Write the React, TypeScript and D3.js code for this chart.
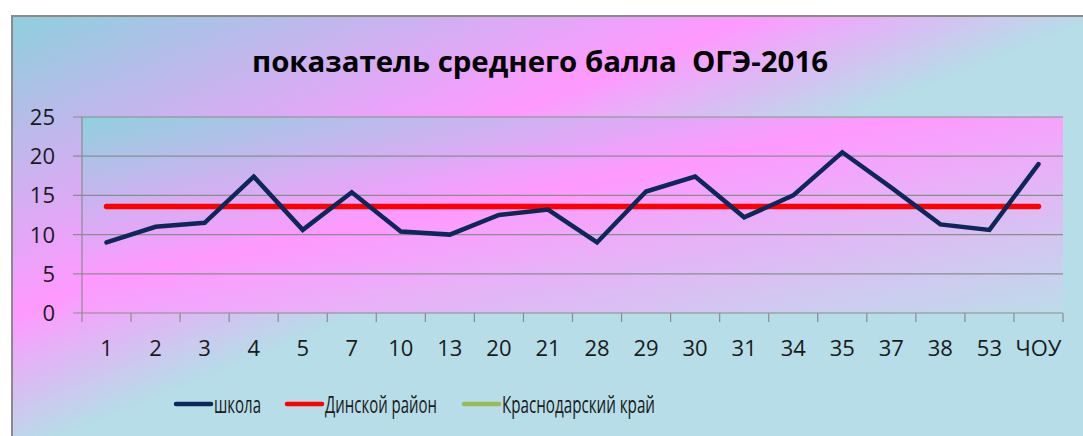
import React, { useEffect, useRef } from 'react'
import * as d3 from 'd3'

// chart data
const categories = ['1', '2', '3', '4', '5', '7', '10', '13', '20', '21', '28', '29', '30', '31', '34', '35', '37', '38', '53', 'ЧОУ']
const schoolValues = [9.0, 11.0, 11.5, 17.4, 10.6, 15.4, 10.4, 10.0, 12.5, 13.2, 9.0, 15.5, 17.4, 12.2, 15.0, 20.5, 16.0, 11.3, 10.6, 19.0]
const districtValues = [13.6, 13.6, 13.6, 13.6, 13.6, 13.6, 13.6, 13.6, 13.6, 13.6, 13.6, 13.6, 13.6, 13.6, 13.6, 13.6, 13.6, 13.6, 13.6, 13.6]
const regionValues: (number | null)[] = []
const yTicks = [0, 5, 10, 15, 20, 25]
const seriesNames = ['школа', 'Динской район', 'Краснодарский край']
const seriesColors = ['#0c2759', '#ff0000', '#9bbb59']
const title = 'показатель среднего балла  ОГЭ-2016'

const FONT = "'Open Sans', 'Noto Sans', sans-serif"

export default function App() {
    const ref = useRef<SVGSVGElement>(null)

    useEffect(() => {
        const width = 1083
        const height = 436
        const plot = { left: 82, top: 117, right: 1063, bottom: 313 }

        const svg = d3.select(ref.current)
        svg.selectAll('*').remove()

        const defs = svg.append('defs')
        const outerGrad = defs.append('linearGradient')
            .attr('id', 'outerGrad')
            .attr('x1', 0).attr('y1', 0).attr('x2', 1).attr('y2', 1)
        outerGrad.append('stop').attr('offset', 0).attr('stop-color', '#8dd0dd')
        outerGrad.append('stop').attr('offset', 0.34).attr('stop-color', '#ff99ff')
        outerGrad.append('stop').attr('offset', 0.5).attr('stop-color', '#b6dde8')
        outerGrad.append('stop').attr('offset', 1).attr('stop-color', '#b6dde8')

        const plotGrad = defs.append('linearGradient')
            .attr('id', 'plotGrad')
            .attr('x1', 0).attr('y1', 0).attr('x2', 1).attr('y2', 1)
        plotGrad.append('stop').attr('offset', 0).attr('stop-color', '#8fd1de')
        plotGrad.append('stop').attr('offset', 0.42).attr('stop-color', '#ff99ff')
        plotGrad.append('stop').attr('offset', 1).attr('stop-color', '#bddcea')

        // white page + chart area
        svg.append('rect').attr('width', width).attr('height', height).attr('fill', '#ffffff')
        svg.append('rect')
            .attr('x', 12).attr('y', 16)
            .attr('width', 1090).attr('height', 440)
            .attr('fill', 'url(#outerGrad)')
            .attr('stroke', '#8a8a8a').attr('stroke-width', 2)

        svg.append('rect')
            .attr('x', plot.left).attr('y', plot.top)
            .attr('width', plot.right - plot.left).attr('height', plot.bottom - plot.top)
            .attr('fill', 'url(#plotGrad)')

        svg.append('text')
            .attr('x', 540).attr('y', 72)
            .attr('text-anchor', 'middle')
            .attr('font-family', FONT)
            .attr('font-weight', 'bold')
            .attr('font-size', 29)
            .attr('textLength', 576)
            .attr('lengthAdjust', 'spacingAndGlyphs')
            .style('white-space', 'pre')
            .attr('fill', '#000')
            .text(title)

        const x = d3.scaleBand().domain(categories).range([plot.left, plot.right])
        const y = d3.scaleLinear().domain([0, 25]).range([plot.bottom, plot.top])
        const cx = (c: string) => (x(c) as number) + x.bandwidth() / 2

        // gridlines
        svg.append('g')
            .selectAll('line')
            .data(yTicks)
            .enter().append('line')
            .attr('x1', plot.left - 9).attr('x2', plot.right)
            .attr('y1', d => y(d)).attr('y2', d => y(d))
            .attr('stroke', '#8c8c8c').attr('stroke-width', 1.2)

        // y axis
        svg.append('line')
            .attr('x1', plot.left).attr('x2', plot.left)
            .attr('y1', plot.top).attr('y2', plot.bottom)
            .attr('stroke', '#8c8c8c').attr('stroke-width', 1.2)
        svg.append('g')
            .selectAll('text')
            .data(yTicks)
            .enter().append('text')
            .attr('x', 55).attr('y', d => y(d) + 8)
            .attr('text-anchor', 'end')
            .attr('font-family', FONT).attr('font-size', 22)
            .attr('fill', '#1a1a1a')
            .text(d => d)

        // x axis ticks between categories
        const boundaries = categories.map(c => x(c) as number).concat([plot.right])
        svg.append('g')
            .selectAll('line')
            .data(boundaries)
            .enter().append('line')
            .attr('x1', d => d).attr('x2', d => d)
            .attr('y1', plot.bottom).attr('y2', plot.bottom + 9)
            .attr('stroke', '#8c8c8c').attr('stroke-width', 1.2)
        svg.append('g')
            .selectAll('text')
            .data(categories)
            .enter().append('text')
            .attr('x', d => cx(d)).attr('y', 356)
            .attr('text-anchor', 'middle')
            .attr('font-family', FONT).attr('font-size', 22)
            .attr('fill', '#1a1a1a')
            .text(d => d)

        const line = d3.line<number | null>()
            .defined(d => d != null)
            .x((_, i) => cx(categories[i]))
            .y(d => y(d as number))

        svg.append('path').datum(regionValues)
            .attr('d', line).attr('fill', 'none')
            .attr('stroke', seriesColors[2]).attr('stroke-width', 4.5)
        svg.append('path').datum(districtValues)
            .attr('d', line).attr('fill', 'none')
            .attr('stroke', seriesColors[1]).attr('stroke-width', 5.5)
            .attr('stroke-linecap', 'round')
        svg.append('path').datum(schoolValues)
            .attr('d', line).attr('fill', 'none')
            .attr('stroke', seriesColors[0]).attr('stroke-width', 4.5)
            .attr('stroke-linejoin', 'miter').attr('stroke-linecap', 'round')

        // legend
        const legendItems = [
            { x: 176, w: 47 },
            { x: 287, w: 112 },
            { x: 464, w: 153 },
        ]
        const legend = svg.append('g')
        legendItems.forEach((it, i) => {
            legend.append('line')
                .attr('x1', it.x).attr('x2', it.x + 35)
                .attr('y1', 404).attr('y2', 404)
                .attr('stroke', seriesColors[i]).attr('stroke-width', 4.5)
                .attr('stroke-linecap', 'round')
            legend.append('text')
                .attr('x', it.x + 38).attr('y', 413)
                .attr('font-family', FONT).attr('font-size', 23)
                .attr('textLength', it.w)
                .attr('lengthAdjust', 'spacingAndGlyphs')
                .attr('fill', '#1a1a1a')
                .text(seriesNames[i])
        })
    }, [])

    return (
        <svg ref={ref} width={1083} height={436}
            style={{ position: 'absolute', left: 0, top: 0, display: 'block' }} />
    )
}
